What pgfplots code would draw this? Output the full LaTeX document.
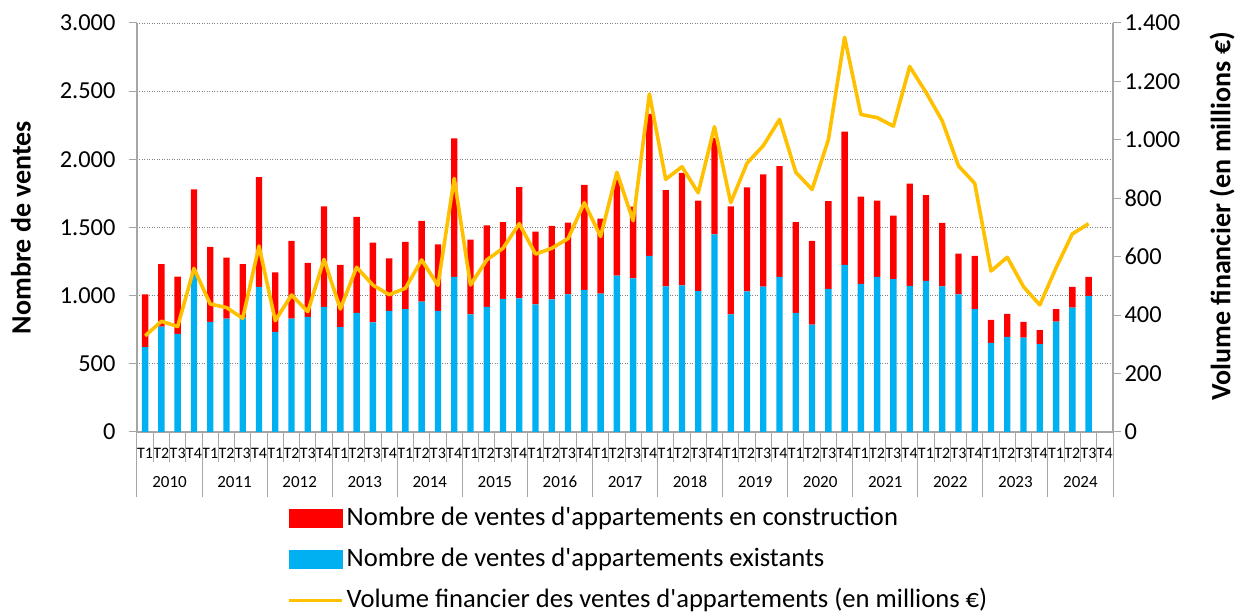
\documentclass[border=0pt]{standalone}
\usepackage{pgfplots}
\pgfplotsset{compat=1.18}
\usepackage{pgfplotstable}
\usepackage{fontspec}
\setmainfont{Carlito}[Ligatures=TeXOff]
\definecolor{cred}{RGB}{255,0,0}
\definecolor{cblue}{RGB}{0,176,240}
\definecolor{cgold}{RGB}{255,192,0}
\definecolor{axisgray}{RGB}{166,166,166}
\definecolor{gridgray}{RGB}{128,128,128}

\pgfplotstableread{
x blue red vol
0 623 387 329
1 773 459 379
2 719 420 361
3 1152 628 560
4 807 550 438
5 831 448 426
6 840 392 389
7 1064 806 637
8 734 437 381
9 831 570 469
10 844 396 412
11 917 738 591
12 770 455 421
13 873 704 564
14 804 585 503
15 888 386 470
16 902 492 492
17 956 592 589
18 888 489 502
19 1137 1017 868
20 863 548 503
21 917 599 589
22 976 564 629
23 980 817 713
24 936 533 609
25 973 538 629
26 1010 525 662
27 1042 770 785
28 1015 550 669
29 1147 701 889
30 1127 526 723
31 1291 1042 1157
32 1068 707 865
33 1076 824 908
34 1034 663 819
35 1450 707 1045
36 863 792 785
37 1032 763 920
38 1066 824 980
39 1137 814 1070
40 873 667 889
41 787 614 830
42 1049 645 1000
43 1225 978 1351
44 1086 640 1087
45 1137 560 1076
46 1122 465 1047
47 1071 751 1251
48 1108 630 1163
49 1068 465 1065
50 1010 298 911
51 902 389 851
52 653 169 551
53 697 169 598
54 692 115 497
55 645 103 435
56 809 93 562
57 912 152 678
58 998 139 713
}\data

\pgfplotsset{
  common/.style={
    width=976pt, height=409pt, scale only axis,
    xmin=-0.5, xmax=59.5, enlargelimits=false,
    axis line style={draw=axisgray, line width=1.2pt, -},
    every outer x axis line/.append style={-},
    every outer y axis line/.append style={-},
    tick style={draw=axisgray, line width=1pt},
    tick align=outside, major tick length=8pt,
    ticklabel style={font=\fontsize{24.4}{28}\selectfont},
    scaled y ticks=false,
    /pgf/number format/1000 sep={.},
    /pgf/number format/assume math mode=true,
  }
}

\begin{document}
\begin{tikzpicture}
\begin{axis}[common,
  ymin=0, ymax=3000,
  axis x line*=bottom, axis y line*=left,
  ytick={0,500,...,3000}, xtick=\empty,
  yticklabel style={xshift=-10pt},
  ymajorgrids,
  grid style={draw=gridgray, line width=0.8pt, dash pattern=on 1pt off 1.5pt},
  ybar stacked, bar width=0.39,
  clip=false,
  ylabel={Nombre de ventes},
  every axis y label/.style={at={(axis description cs:-0.119,0.5)}, rotate=90, anchor=center, font=\bfseries\fontsize{28}{32}\selectfont},
]
\addplot[fill=cblue, draw=none] table[x=x,y=blue]{\data};
\addplot[fill=cred, draw=none] table[x=x,y=red]{\data};
\coordinate (O) at (rel axis cs:0,0);
\pgfplotsinvokeforeach{0,...,60}{\draw[axisgray, line width=1pt] (axis cs:{#1-0.5},0) -- ++(0pt,-30pt);}
\pgfplotsinvokeforeach{0,...,15}{\draw[axisgray, line width=1pt] (axis cs:{4*#1-0.5},0) -- ++(0pt,-65pt);}
\pgfplotsinvokeforeach{0,...,59}{\node[font=\fontsize{16}{16}\selectfont, inner sep=0pt] at ([yshift=-21pt]axis cs:#1,0) {T\pgfmathparse{int(mod(#1,4)+1)}\pgfmathresult};}
\pgfplotsinvokeforeach{0,...,14}{\node[font=\fontsize{17}{17}\selectfont, inner sep=0pt] at ([yshift=-50pt]axis cs:{4*#1+1.5},0) {\pgfmathparse{int(2010+#1)}\pgfmathresult};}
\end{axis}
\begin{axis}[common,
  ymin=0, ymax=1400,
  axis x line=none, axis y line*=right,
  ytick={0,200,...,1400},
  ylabel={Volume financier (en millions €)},
  every axis y label/.style={at={(axis description cs:1.1117,0.527)}, rotate=90, anchor=center, font=\bfseries\fontsize{28}{32}\selectfont},
  legend style={draw=none, fill=none, at={(axis description cs:0.1537,0)}, anchor=north west, yshift=-74pt, inner sep=0pt, outer sep=0pt, row sep=16pt, column sep=3pt, font=\fontsize{26.6}{30}\selectfont, nodes={inner sep=0pt, text height=19pt, text depth=6pt}},
  legend cell align=left,
]
\addlegendimage{legend image code/.code={\fill[cred] (0pt,-9pt) rectangle (53pt,9pt);}}
\addlegendentry{Nombre de ventes d'appartements en construction}
\addlegendimage{legend image code/.code={\fill[cblue] (0pt,-9pt) rectangle (53pt,9pt);}}
\addlegendentry{Nombre de ventes d'appartements existants}
\addplot[color=cgold, line width=3.6pt, line join=round, mark=none,
  legend image code/.code={\draw[cgold, line width=3.6pt] (0pt,0pt) -- (53pt,0pt);}]
  table[x=x,y=vol]{\data};
\addlegendentry{Volume financier des ventes d'appartements (en millions €)}
\end{axis}
\pgfresetboundingbox
\path (O) ++(-137pt,-180pt) rectangle ++(1238pt,612pt);
\end{tikzpicture}
\end{document}
